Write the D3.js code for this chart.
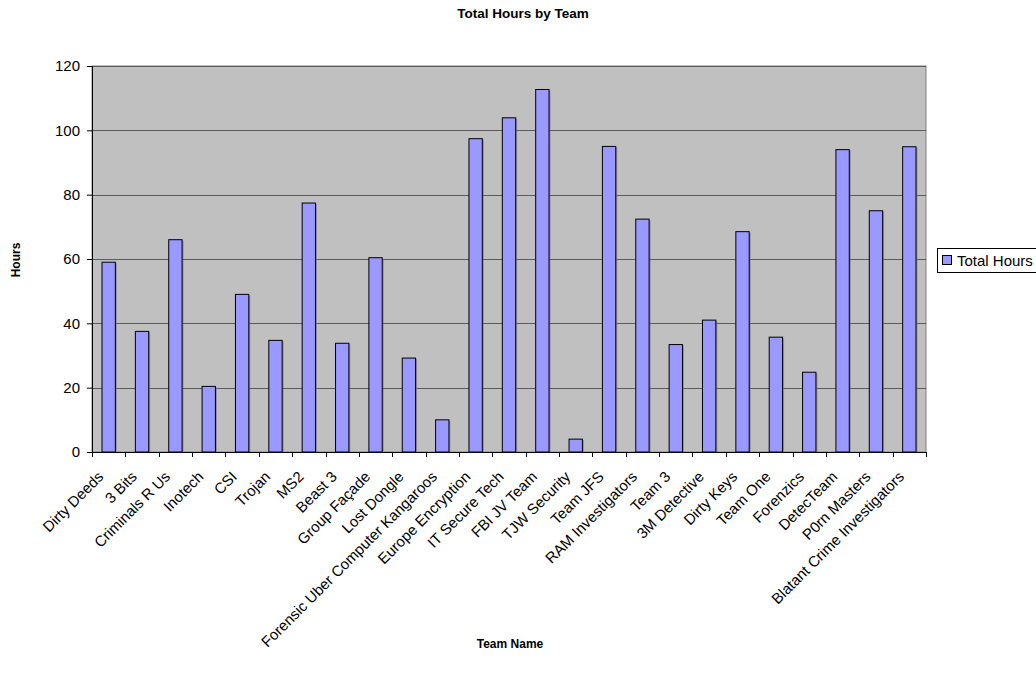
<!DOCTYPE html>
<html>
<head>
<meta charset="utf-8">
<script src="https://cdn.jsdelivr.net/npm/d3@7"></script>
<style>
  body { margin: 0; background: #fff; }
  text { font-family: "Liberation Sans", Arial, sans-serif; }
</style>
</head>
<body>
<svg id="chart" width="1036" height="685"></svg>
<script>
// Team names along the x axis
const teams = [
  "Dirty Deeds", "3 Bits", "Criminals R Us", "Inotech", "CSI", "Trojan", "MS2",
  "Beast 3", "Group Façade", "Lost Dongle", "Forensic Uber Computer Kangaroos",
  "Europe Encryption", "IT Secure Tech", "FBI JV Team", "TJW Security", "Team JFS",
  "RAM Investigators", "Team 3", "3M Detective", "Dirty Keys", "Team One",
  "Forenzics", "DetecTeam", "P0rn Masters", "Blatant Crime Investigators"
];
// Total hours per team
const totalHours = [
  59, 37.5, 66, 20.4, 49, 34.7, 77.4,
  33.8, 60.4, 29.2, 10,
  97.4, 103.9, 112.7, 4, 95,
  72.4, 33.4, 41, 68.5, 35.7,
  24.8, 94, 75, 94.9
];
const yTicks = [0, 20, 40, 60, 80, 100, 120];
const seriesName = "Total Hours";

const svg = d3.select("#chart");
const plot = { left: 92, top: 66, right: 926, bottom: 452 };

const x = d3.scaleBand().domain(teams).range([plot.left, plot.right]).paddingInner(0).paddingOuter(0);
const y = d3.scaleLinear().domain([0, 120]).range([plot.bottom, plot.top]);
const barW = x.bandwidth() / 2.5;

// plot background
svg.append("rect")
  .attr("x", plot.left).attr("y", plot.top)
  .attr("width", plot.right - plot.left).attr("height", plot.bottom - plot.top)
  .attr("fill", "#c0c0c0").attr("stroke", "#808080").attr("stroke-width", 1);

// horizontal gridlines
svg.append("g").selectAll("line").data(yTicks.filter(d => d > 0)).join("line")
  .attr("x1", plot.left).attr("x2", plot.right)
  .attr("y1", d => Math.round(y(d)) + 0.5).attr("y2", d => Math.round(y(d)) + 0.5)
  .attr("stroke", "#5a5a5a").attr("stroke-width", 1.2);

// bars with a faint drop shadow on the right edge
const bars = svg.append("g");
bars.selectAll("rect.shadow").data(teams).join("rect").attr("class", "shadow")
  .attr("x", (d, i) => x(d) + (x.bandwidth() - barW) / 2 + 1.5)
  .attr("y", (d, i) => y(totalHours[i]) + 1)
  .attr("width", barW)
  .attr("height", (d, i) => y(0) - y(totalHours[i]) - 1)
  .attr("fill", "#6f6f8a").attr("opacity", 0.6);
bars.selectAll("rect.bar").data(teams).join("rect").attr("class", "bar")
  .attr("x", (d, i) => x(d) + (x.bandwidth() - barW) / 2)
  .attr("y", (d, i) => y(totalHours[i]))
  .attr("width", barW)
  .attr("height", (d, i) => y(0) - y(totalHours[i]))
  .attr("fill", "#9999ff").attr("stroke", "#000").attr("stroke-width", 1);

// y axis
const yAxis = svg.append("g")
  .attr("transform", `translate(${plot.left},0)`)
  .call(d3.axisLeft(y).tickValues(yTicks).tickSize(5).tickPadding(7).tickFormat(d3.format("d")));
yAxis.select(".domain").attr("stroke", "#000");
yAxis.selectAll(".tick line").attr("stroke", "#000");
yAxis.selectAll(".tick text").attr("font-size", 15).attr("fill", "#000")
  .style("font-family", '"Liberation Sans", Arial, sans-serif');

// x axis: ticks on band boundaries
const xAxisG = svg.append("g");
xAxisG.append("line")
  .attr("x1", plot.left).attr("x2", plot.right)
  .attr("y1", plot.bottom + 0.5).attr("y2", plot.bottom + 0.5)
  .attr("stroke", "#000");
const bounds = teams.map(d => x(d)).concat([plot.right]);
xAxisG.selectAll("line.tk").data(bounds).join("line").attr("class", "tk")
  .attr("x1", d => Math.round(d) + 0.5).attr("x2", d => Math.round(d) + 0.5)
  .attr("y1", plot.bottom).attr("y2", plot.bottom + 5)
  .attr("stroke", "#000");
xAxisG.selectAll("text").data(teams).join("text")
  .attr("transform", d => `translate(${x(d) + x.bandwidth() / 2 - 8},${plot.bottom + 22}) rotate(-45)`)
  .attr("text-anchor", "end")
  .attr("dy", "0.35em")
  .attr("font-size", 15)
  .attr("fill", "#000")
  .text(d => d);

// title
svg.append("text")
  .attr("x", 523).attr("y", 18)
  .attr("text-anchor", "middle")
  .attr("font-size", 13.5).attr("font-weight", "bold")
  .text("Total Hours by Team");

// axis titles
svg.append("text")
  .attr("transform", "translate(20,260) rotate(-90)")
  .attr("text-anchor", "middle")
  .attr("font-size", 12).attr("font-weight", "bold")
  .text("Hours");
svg.append("text")
  .attr("x", 510).attr("y", 648)
  .attr("text-anchor", "middle")
  .attr("font-size", 12).attr("font-weight", "bold")
  .text("Team Name");

// legend
const lg = svg.append("g");
lg.append("rect")
  .attr("x", 937.5).attr("y", 248.5).attr("width", 110).attr("height", 24)
  .attr("fill", "#fff").attr("stroke", "#000");
lg.append("rect")
  .attr("x", 942.5).attr("y", 255.5).attr("width", 9).attr("height", 9)
  .attr("fill", "#9999ff").attr("stroke", "#000");
lg.append("text")
  .attr("x", 957).attr("y", 266)
  .attr("font-size", 15)
  .text(seriesName);
</script>
</body>
</html>
